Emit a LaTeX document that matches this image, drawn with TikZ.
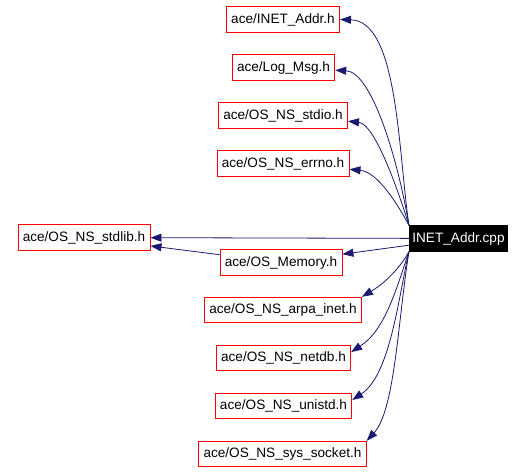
\documentclass[tikz,border=0pt]{standalone}
\usepackage{fontspec}
\setmainfont{Liberation Sans}
\usetikzlibrary{arrows.meta}
\definecolor{edgeblue}{RGB}{25,25,112}
\tikzset{
  hdr/.style={draw=red, fill=white, line width=0.9pt, inner xsep=4.8pt, inner ysep=0pt,
    minimum height=25.5pt, font=\fontsize{13.6}{16}\selectfont},
  src/.style={hdr, draw=black, fill=black, text=white, inner xsep=3pt},
  dep/.style={-{Triangle[length=11pt,width=8pt]}, draw=edgeblue, line width=0.8pt}
}

\begin{document}
\begin{tikzpicture}[x=1pt, y=-1pt]
            \useasboundingbox (0,0) rectangle (531,472);
            \node[src] (cpp) at (458.5,238.5) {INET\_Addr.cpp};
            \node[hdr] (inet) at (283,19.5) {ace/INET\_Addr.h};
            \node[hdr] (logmsg) at (283.5,67.5) {ace/Log\_Msg.h};
            \node[hdr] (stdio) at (283,115.5) {ace/OS\_NS\_stdio.h};
            \node[hdr] (errno) at (283,163.5) {ace/OS\_NS\_errno.h};
            \node[hdr] (stdlib) at (84,237.5) {ace/OS\_NS\_stdlib.h};
            \node[hdr] (memory) at (281,262.5) {ace/OS\_Memory.h};
            \node[hdr] (arpa) at (283,310) {ace/OS\_NS\_arpa\_inet.h};
            \node[hdr] (netdb) at (283.5,358) {ace/OS\_NS\_netdb.h};
            \node[hdr] (unistd) at (283.5,406) {ace/OS\_NS\_unistd.h};
            \node[hdr] (socket) at (282.5,454) {ace/OS\_NS\_sys\_socket.h};
            % upper headers
            \draw[dep] (cpp.north west) .. controls (398,150) and (398,21) .. (inet.east);
            \draw[dep] (cpp.north west) .. controls (398,160) and (372,72) .. (logmsg.-3);
            \draw[dep] (cpp.north west) .. controls (398,190) and (375,124) .. (stdio.-5);
            \draw[dep] (cpp.north west) .. controls (398,205) and (378,172) .. (errno.-5);
            % straight ones
            \draw[dep] (cpp) -- (stdlib);
            \draw[dep] (cpp) -- (memory);
            \draw[dep] (memory) -- (stdlib);
            % lower headers
            \draw[dep] (cpp.south west) .. controls (400,268) and (385,283) .. (arpa.north east);
            \draw[dep] (cpp.south west) .. controls (396,290) and (385,330) .. (netdb.5);
            \draw[dep] (cpp.south west) .. controls (398,300) and (390,375) .. (unistd.5);
            \draw[dep] (cpp.south west) .. controls (398,320) and (395,410) .. (socket.north east);
        \end{tikzpicture}
\end{document}
